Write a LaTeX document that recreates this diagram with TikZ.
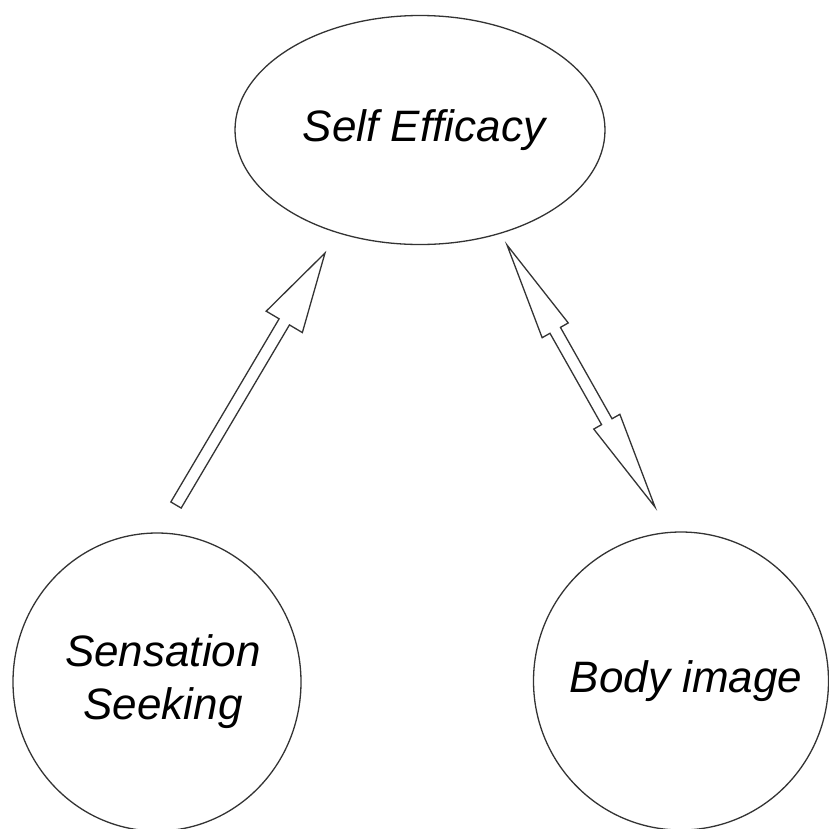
\documentclass[tikz,border=0pt]{standalone}
\usepackage{fontspec}
\setmainfont{Liberation Sans}
\usetikzlibrary{shapes.geometric,calc}

\tikzset{
  outline/.style={draw=black!80, line width=1.3pt},
  concept/.style={outline, inner sep=0pt, align=center,
    font=\itshape\fontsize{44}{53}\selectfont},
  hollowarrow/.style={outline, fill=white, line join=miter}
}

% text of zero width, nudged right by #1, so that the node size alone sets the outline
\newcommand{\zerowide}[2][0pt]{\makebox[0pt]{\hspace*{#1}\hspace*{#1}#2}}

% hollow single arrow from #1 (tail) to #2 (tip)
\newcommand{\hollowsingle}[5]{% tail, tip, shaft half width, head half width, head length
  \coordinate (hb) at ($(#2)!#5!(#1)$);
  \draw[hollowarrow]
    ($(#1)!#3!90:(#2)$) -- ($(hb)!#3!-90:(#1)$) -- ($(hb)!#4!-90:(#1)$) -- (#2)
    -- ($(hb)!#4!90:(#1)$) -- ($(hb)!#3!90:(#1)$) -- ($(#1)!#3!-90:(#2)$) -- cycle;
}
% hollow double arrow between tips #1 and #2
\newcommand{\hollowdouble}[5]{% tip a, tip b, shaft half width, head half width, head length
  \coordinate (ha) at ($(#1)!#5!(#2)$);
  \coordinate (hb) at ($(#2)!#5!(#1)$);
  \draw[hollowarrow]
    (#1) -- ($(ha)!#4!90:(#2)$) -- ($(ha)!#3!90:(#2)$) -- ($(hb)!#3!-90:(#1)$)
    -- ($(hb)!#4!-90:(#1)$) -- (#2) -- ($(hb)!#4!90:(#1)$) -- ($(hb)!#3!90:(#1)$)
    -- ($(ha)!#3!-90:(#2)$) -- ($(ha)!#4!-90:(#2)$) -- cycle;
}

\begin{document}
\begin{tikzpicture}[x=1pt, y=-1pt]
  \useasboundingbox (0,0) rectangle (829,828);

  \node[concept, ellipse, minimum width=370pt, minimum height=229pt]
    (se) at (420,130) {\zerowide[4pt]{Self Efficacy}};
  \node[concept, ellipse, minimum width=288pt, minimum height=298pt]
    (ss) at (157,682) {\zerowide[6pt]{Sensation}\\\zerowide[6pt]{Seeking}};
  \node[concept, ellipse, minimum width=295pt, minimum height=298pt]
    (bi) at (681,681) {\zerowide[5pt]{Body image}};

  % arrow ends
  \coordinate (sstail) at (176,505);
  \coordinate (ssto) at (325,253);
  \coordinate (setip) at (507,245);
  \coordinate (bitip) at (655,507);

  \hollowsingle{sstail}{ssto}{6pt}{21pt}{80pt}
  \hollowdouble{setip}{bitip}{6pt}{15pt}{98pt}
\end{tikzpicture}
\end{document}
